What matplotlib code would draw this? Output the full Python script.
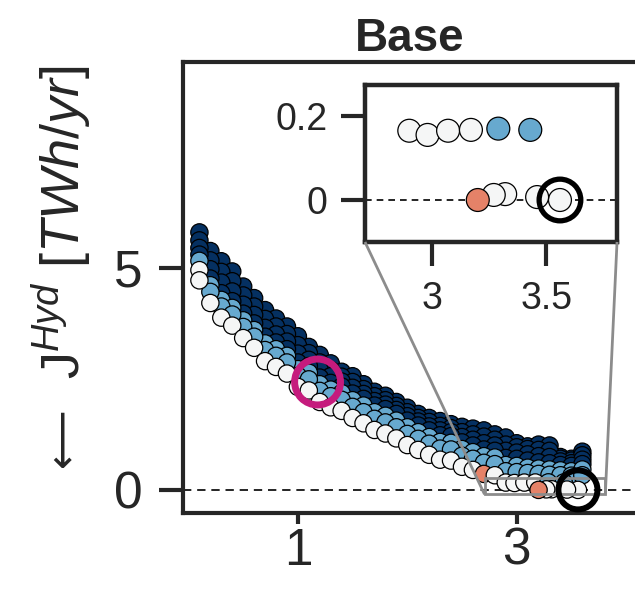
import matplotlib
matplotlib.use("Agg")
import matplotlib.pyplot as plt
from mpl_toolkits.axes_grid1.inset_locator import mark_inset

plt.rcParams['font.family'] = ['Liberation Sans', 'DejaVu Sans']
plt.rcParams['mathtext.fontset'] = 'custom'
plt.rcParams['mathtext.rm'] = 'Liberation Sans'
plt.rcParams['mathtext.it'] = 'Liberation Sans:italic'
plt.rcParams['mathtext.bf'] = 'Liberation Sans:bold'

INK = '#262626'
NAVY = '#053061'
BLUE = '#67a9cf'
WHITE = '#f5f6f6'
ORANGE = '#e58268'

# ---------------------------------------------------------------
# datos: columnas de la nube y filas apiladas (de abajo hacia arriba)
# ---------------------------------------------------------------
x_grid = [0.1, 0.2, 0.3, 0.4, 0.5, 0.6, 0.7, 0.8, 0.9, 1.0, 1.1, 1.2,
          1.3, 1.4, 1.5, 1.6, 1.7, 1.8, 1.9, 2.0, 2.1, 2.2, 2.3, 2.4,
          2.5, 2.6, 2.7, 2.8, 2.9, 3.0, 3.1, 3.2, 3.3, 3.4, 3.5, 3.6]

y_white = [4.72, 4.21, 3.88, 3.70, 3.42, 3.20, 2.90, 2.77, 2.62, 2.32, 2.24, 1.98,
           1.86, 1.78, 1.62, 1.50, 1.35, 1.27, 1.16, 1.01, 0.90, 0.79, 0.68, 0.66,
           0.52, 0.45, 0.36, 0.33]
c_white = "wwwwwwwwwwwwwwwwwwwwwwwwwwow"

y_blue1 = [4.95, 4.46, 4.13, 3.95, 3.67, 3.45, 3.15, 3.02, 2.87, 2.57, 2.49, 2.23,
           2.11, 2.03, 1.87, 1.75, 1.60, 1.52, 1.41, 1.26, 1.15, 1.04, 0.93, 0.91,
           0.77, 0.70, 0.61, 0.58, 0.42, 0.40, 0.38, 0.36, 0.34, 0.33, 0.32, 0.33]
c_blue1 = "wbbbbbbbbbbbbbbbbbbbbbbbbbbbbbbbbbbb"
y_blue2 = [5.16, 4.61, 4.28, 4.10, 3.82, 3.60, 3.30, 3.17, 3.02, 2.72, 2.64, 2.38,
           2.26, 2.18, 2.02, 1.90, 1.75, 1.67, 1.56, 1.41, 1.30, 1.19, 1.08, 1.06,
           0.92, 0.85, 0.76, 0.73, 0.56, 0.54, 0.50, 0.48, 0.46, 0.44, 0.42, 0.46]
y_navy1 = [5.30, 4.76, 4.43, 4.25, 3.97, 3.75, 3.45, 3.32, 3.17, 2.87, 2.79, 2.53,
           2.41, 2.33, 2.17, 2.05, 1.90, 1.82, 1.71, 1.56, 1.45, 1.34, 1.23, 1.21,
           1.07, 1.00, 0.91, 0.88, 0.72, 0.70, 0.66, 0.62, 0.60, 0.56, 0.54, 0.58]
y_navy2 = [5.45, 4.97, 4.67, 4.47, 4.17, 3.94, 3.65, 3.50, 3.34, 3.07, 2.93, 2.70,
           2.56, 2.44, 2.30, 2.16, 2.00, 1.92, 1.80, 1.66, 1.54, 1.43, 1.34, 1.30,
           1.19, 1.13, 1.05, 1.00, 0.88, 0.84, 0.80, 0.76, 0.74, 0.64, 0.60, 0.68]
y_navy3 = [5.62, 5.17, 4.91, 4.70, 4.38, 4.13, 3.85, 3.68, 3.51, 3.26, 3.08, 2.87,
           2.70, 2.55, 2.43, 2.27, 2.11, 2.02, 1.89, 1.75, 1.62, 1.53, 1.44, 1.39,
           1.30, 1.25, 1.20, 1.13, 1.02, 0.96, 0.92, 0.90, 0.88, 0.70, 0.66, 0.78]
y_navy4 = [5.80, 5.38, 5.15, 4.92, 4.58, 4.32, 4.05, 3.86, 3.68, 3.46, 3.22, 3.04,
           2.85, 2.66, 2.56, 2.38, 2.21, 2.12, 1.98, 1.85, 1.71, 1.62, 1.55, 1.48,
           1.42, 1.38, 1.34, 1.25, 1.18, 1.05, 0.98, 1.02, 1.00, 0.74, 0.70, 0.86]

# puntos cercanos a cero (los que se ven en el zoom)
tail_x = [2.90, 2.98, 3.07, 3.17, 3.29, 3.43, 3.56, 3.46, 3.32, 3.27, 3.20]
tail_y = [0.165, 0.155, 0.165, 0.167, 0.170, 0.167, 0.000, 0.007, 0.014, 0.012, 0.000]
tail_c = "wwwwbbwwwwo"

ring_pink = (1.18, 2.43)
ring_black = (3.56, 0.0)

colores = {'w': WHITE, 'b': BLUE, 'n': NAVY, 'o': ORANGE}


def dibujar_nube(ax, s, lw):
    # de arriba hacia abajo: las filas inferiores quedan encima
    filas = [(y_navy4, 'n' * 36), (y_navy3, 'n' * 36), (y_navy2, 'n' * 36),
             (y_navy1, 'n' * 36), (y_blue2, 'b' * 36), (y_blue1, c_blue1),
             (y_white, c_white), (tail_y, tail_c)]
    for ys, cs in filas:
        xs = tail_x if ys is tail_y else x_grid[:len(ys)]
        ax.scatter(xs, ys, s=s, c=[colores[c] for c in cs], edgecolors='k',
                   linewidths=lw, zorder=3)


fig = plt.figure(figsize=(6.35, 6.03), dpi=100)
ax = fig.add_axes([0.2882, 0.1493, 0.715, 0.748])

ax.axhline(0, color='k', ls='--', lw=1.2, dashes=(5, 3.5), zorder=1)
dibujar_nube(ax, s=155, lw=0.9)
ax.scatter(*ring_pink, s=1090, facecolors='none', edgecolors='#c51b7d', linewidths=5, zorder=6)
ax.scatter(*ring_black, s=790, facecolors='none', edgecolors='k', linewidths=4.3, zorder=6)

ax.set_xlim(-0.05, 4.10)
ax.set_ylim(-0.52, 9.64)
ax.set_xticks([1, 3])
ax.set_yticks([0, 5])
ax.tick_params(width=3, labelsize=37, color=INK, labelcolor=INK)
ax.tick_params(axis='x', length=8, pad=2)
ax.tick_params(axis='y', length=17, pad=12)
for sp in ax.spines.values():
    sp.set_linewidth(3)
    sp.set_color(INK)
ax.set_title('Base', fontsize=33, fontweight='bold', color=INK, pad=8)

# etiqueta del eje y: flecha aparte para que salga larga
fig.text(80 / 635, 1 - 222 / 603, 'J$^{Hyd}$ [$TWh/yr$]', rotation=90, rotation_mode='anchor',
         ha='center', va='baseline', fontsize=39, color=INK)
fig.text(62 / 635, 1 - 437 / 603, '⟵', rotation=90, rotation_mode='anchor',
         ha='center', va='center', fontsize=30, color=INK, family='DejaVu Sans')

# recuadro ampliado
axins = fig.add_axes([0.5748, 0.5987, 0.3969, 0.2604])
axins.axhline(0, color='k', ls='--', lw=1.2, dashes=(4, 3), zorder=1)
dibujar_nube(axins, s=272, lw=0.9)
axins.scatter(*ring_black, s=900, facecolors='none', edgecolors='k', linewidths=3.8, zorder=6)
axins.set_xlim(2.706, 3.81)
axins.set_ylim(-0.1, 0.274)
axins.set_xticks([3, 3.5])
axins.set_xticklabels(['3', '3.5'])
axins.set_yticks([0, 0.2])
axins.set_yticklabels(['0', '0.2'])
axins.tick_params(length=17, width=3, labelsize=27, color=INK, labelcolor=INK)
axins.tick_params(axis='x', pad=11)
axins.tick_params(axis='y', pad=10)
for sp in axins.spines.values():
    sp.set_linewidth(3.2)
    sp.set_color(INK)

mark_inset(ax, axins, loc1=3, loc2=4, fc='none', ec='0.55', lw=2, zorder=5)

fig.savefig('out.png', dpi=100)
